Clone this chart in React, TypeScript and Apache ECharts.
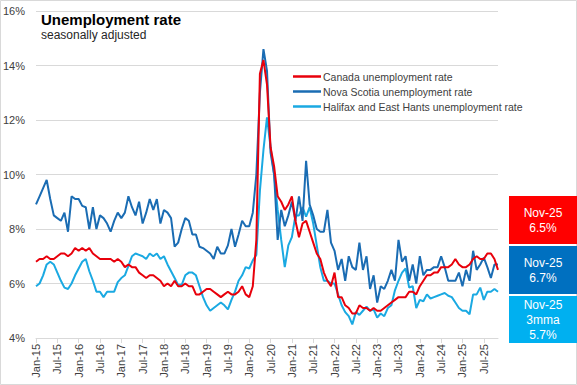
import React, { useEffect, useRef } from "react";
import * as echarts from "echarts";

const MONTHS = ["Jan", "Feb", "Mar", "Apr", "May", "Jun", "Jul", "Aug", "Sep", "Oct", "Nov", "Dec"];
const categories: string[] = [];
for (let y = 2015; y <= 2025; y++) {
  for (let m = 0; m < 12; m++) {
    if (y === 2025 && m > 10) break;
    categories.push(`${MONTHS[m]}-${String(y).slice(2)}`);
  }
}

const canada = [
  6.8, 6.9, 6.9, 7.0, 6.9, 6.9, 7.0, 7.1, 7.1, 7.0, 7.1, 7.3,
  7.2, 7.3, 7.2, 7.3, 7.1, 7.0, 6.9, 6.9, 6.9, 6.9, 6.8, 6.9,
  6.8, 6.6, 6.7, 6.6, 6.6, 6.4, 6.3, 6.2, 6.3, 6.3, 6.2, 6.1,
  5.9, 6.0, 5.9, 6.1, 5.9, 5.9, 6.0, 5.9, 5.9, 5.6, 5.6, 5.7,
  5.8, 5.8, 5.7, 5.6, 5.5, 5.6, 5.7, 5.6, 5.6, 5.7, 5.9, 5.6,
  5.5, 5.9, 7.6, 13.7, 14.2, 13.3, 11.0, 10.3, 9.2, 9.0, 8.7, 8.9,
  9.2, 8.3, 7.7, 8.2, 8.3, 7.9, 7.5, 7.1, 6.9, 6.4, 6.1, 5.9,
  6.4, 5.5, 5.5, 5.2, 5.1, 4.9, 4.9, 5.2, 5.1, 5.1, 5.0, 5.1,
  5.0, 5.0, 5.1, 5.2, 5.3, 5.4, 5.5, 5.5, 5.5, 5.7, 5.7, 5.6,
  5.9, 6.1, 6.3, 6.3, 6.4, 6.4, 6.6, 6.6, 6.6, 6.7, 6.9, 6.7,
  6.6, 6.6, 6.7, 6.9, 7.0, 6.9, 6.9, 7.1, 7.1, 6.9, 6.5,
];

const novaScotia = [
  8.9, 9.2, 9.5, 9.8, 9.1, 8.5, 8.4, 8.3, 8.6, 7.9, 9.2, 9.1,
  9.1, 8.85, 8.8, 8.0, 8.8, 8.0, 8.5, 8.4, 8.2, 7.9, 8.3, 8.6,
  8.4, 8.6, 9.2, 8.8, 8.5, 9.0, 8.2, 8.6, 9.1, 8.7, 9.1, 8.2,
  8.7, 8.6, 8.4, 7.35, 7.5, 8.0, 8.4, 8.3, 7.8, 7.8, 7.35, 7.3,
  7.2, 7.1, 6.9, 7.35, 7.1, 7.1, 7.4, 8.0, 7.35, 7.8, 8.3, 8.1,
  8.1, 8.6, 10.0, 13.0, 14.6, 13.8, 10.8, 10.0, 7.6, 8.7, 8.1, 8.5,
  9.0, 8.3, 9.2, 8.3, 10.5, 8.9, 8.5, 8.0, 7.9, 7.9, 8.7, 7.5,
  7.2, 6.5, 6.9, 6.1, 7.0, 6.6, 6.5, 7.5, 6.5, 7.0, 5.8, 6.3,
  5.3, 5.9, 5.8, 6.1, 6.5, 6.1, 7.6, 6.8, 7.0, 6.1, 6.7, 6.0,
  7.0, 6.3, 6.5, 6.5, 6.6, 6.6, 7.0, 6.6, 6.1, 6.1, 6.1, 6.4,
  5.9, 6.5, 6.1, 7.2, 6.5, 6.7, 6.95, 6.6, 6.2, 6.7, 6.7,
];

const halifax = [
  5.9, 6.0, 6.3, 6.7, 6.8, 6.7, 6.4, 6.1, 5.85, 5.8, 6.0, 6.3,
  6.55, 6.8, 6.9, 6.45, 6.1, 5.7, 5.7, 5.5, 5.7, 5.7, 5.7, 6.05,
  6.2, 6.3, 6.65, 7.0, 7.1, 7.05, 7.0, 6.9, 7.1, 7.0, 7.1, 6.9,
  7.0, 6.7, 6.45, 6.2, 5.95, 5.95, 6.3, 6.4, 6.4, 6.3, 5.9, 5.5,
  5.2, 5.0, 5.1, 5.2, 5.3, 5.2, 5.05, 5.4, 5.7, 6.1, 6.3, 6.6,
  6.55, 6.85, 7.05, 9.4, 10.9, 12.1, 11.0, 10.0, 8.7, 7.6, 6.6, 7.4,
  7.7, 8.5, 8.5, 8.8, 8.45, 8.8, 8.2, 7.4, 6.6, 6.1, 6.1, 6.0,
  6.0, 5.6, 5.2, 4.95, 4.8, 4.5, 4.95, 4.85, 5.0, 5.15, 5.0, 5.05,
  4.75, 4.9, 4.8, 5.1, 5.2, 5.75, 6.1, 6.4, 6.55, 5.85, 5.9, 5.1,
  5.4, 5.35, 5.6, 5.45, 5.5, 5.55, 5.6, 5.65, 5.55, 5.5, 5.3, 5.1,
  5.0, 5.0, 4.87, 5.6, 5.6, 5.85, 5.4, 5.7, 5.7, 5.8, 5.7,
];

const seriesNames = [
  "Canada unemployment rate",
  "Nova Scotia unemployment rate",
  "Halifax and East Hants unemployment rate",
];
const colors = ["#e8000b", "#1a6cb3", "#1aa9e2"];
const boxColors = ["#ff0000", "#0070c0", "#00b0f0"];
const boxSuffix = ["", "", "3mma"];

const FONT = "'Liberation Sans', Arial, sans-serif";

export default function App() {
  const ref = useRef<HTMLDivElement>(null);
  useEffect(() => {
    document.body.style.margin = "0";
    const chart = echarts.init(ref.current!, undefined, { renderer: "svg" });
    const all = [canada, novaScotia, halifax];
    const lastCat = categories[categories.length - 1];
    const boxTops = [196, 246, 296];
    const boxHeights = [48, 48, 47];
    const boxes: any[] = all.map((s, i) => {
      const lines = [lastCat];
      if (boxSuffix[i]) lines.push(boxSuffix[i]);
      lines.push(s[s.length - 1].toFixed(1) + "%");
      return {
        type: "group",
        left: 509,
        top: boxTops[i],
        children: [
          {
            type: "rect",
            shape: { x: 0, y: 0, width: 68, height: boxHeights[i] },
            style: { fill: boxColors[i] },
          },
          {
            type: "text",
            x: 34,
            y: boxHeights[i] / 2,
            style: {
              text: lines.join("\n"),
              fill: "#ffffff",
              font: `12px ${FONT}`,
              align: "center",
              verticalAlign: "middle",
              lineHeight: 15,
            },
          },
        ],
      };
    });
    chart.setOption({
      animation: false,
      textStyle: { fontFamily: FONT },
      grid: { left: 36, right: 79, top: 11, bottom: 47, containLabel: false },
      title: {
        text: "Unemployment rate",
        subtext: "seasonally adjusted",
        left: 36,
        top: 7,
        itemGap: 2,
        textStyle: { fontSize: 15, fontWeight: "bold", color: "#000000", fontFamily: FONT },
        subtextStyle: { fontSize: 12, color: "#262626", fontFamily: FONT },
      },
      legend: {
        orient: "vertical",
        left: 288,
        top: 66,
        itemWidth: 28,
        itemHeight: 8,
        itemGap: 4,
        icon: "path://M0,0 L28,0 L28,2.5 L0,2.5 Z",
        textStyle: { fontSize: 10.5, color: "#404040", fontFamily: FONT, padding: [0, 0, 0, -3] },
        data: seriesNames,
      },
      xAxis: {
        type: "category",
        data: categories,
        boundaryGap: false,
        axisLine: { lineStyle: { color: "#d9d9d9" } },
        axisTick: { interval: 5, length: 5, lineStyle: { color: "#d9d9d9" } },
        axisLabel: { interval: 5, rotate: 90, fontSize: 11, color: "#404040", margin: 6 },
        splitLine: { show: false },
      },
      yAxis: {
        type: "value",
        min: 4,
        max: 16,
        interval: 2,
        axisLine: { show: false },
        axisTick: { show: false },
        axisLabel: { formatter: "{value}%", fontSize: 11, color: "#404040", margin: 11 },
        splitLine: { lineStyle: { color: "#d9d9d9" } },
      },
      series: all.map((d, i) => ({
        name: seriesNames[i],
        type: "line",
        data: d,
        showSymbol: false,
        symbol: "none",
        lineStyle: { width: 2, color: colors[i] },
        itemStyle: { color: colors[i] },
        z: 3 - i,
      })),
      graphic: [
        {
          type: "rect",
          shape: { x: 0.5, y: 0.5, width: 576, height: 384 },
          style: { fill: "none", stroke: "#d9d9d9", lineWidth: 1 },
          silent: true,
        },
        ...boxes,
      ],
    });
    return () => chart.dispose();
  }, []);
  return (
    <div
      ref={ref}
      style={{ position: "fixed", left: 0, top: 0, width: 577, height: 385, background: "#ffffff" }}
    />
  );
}
